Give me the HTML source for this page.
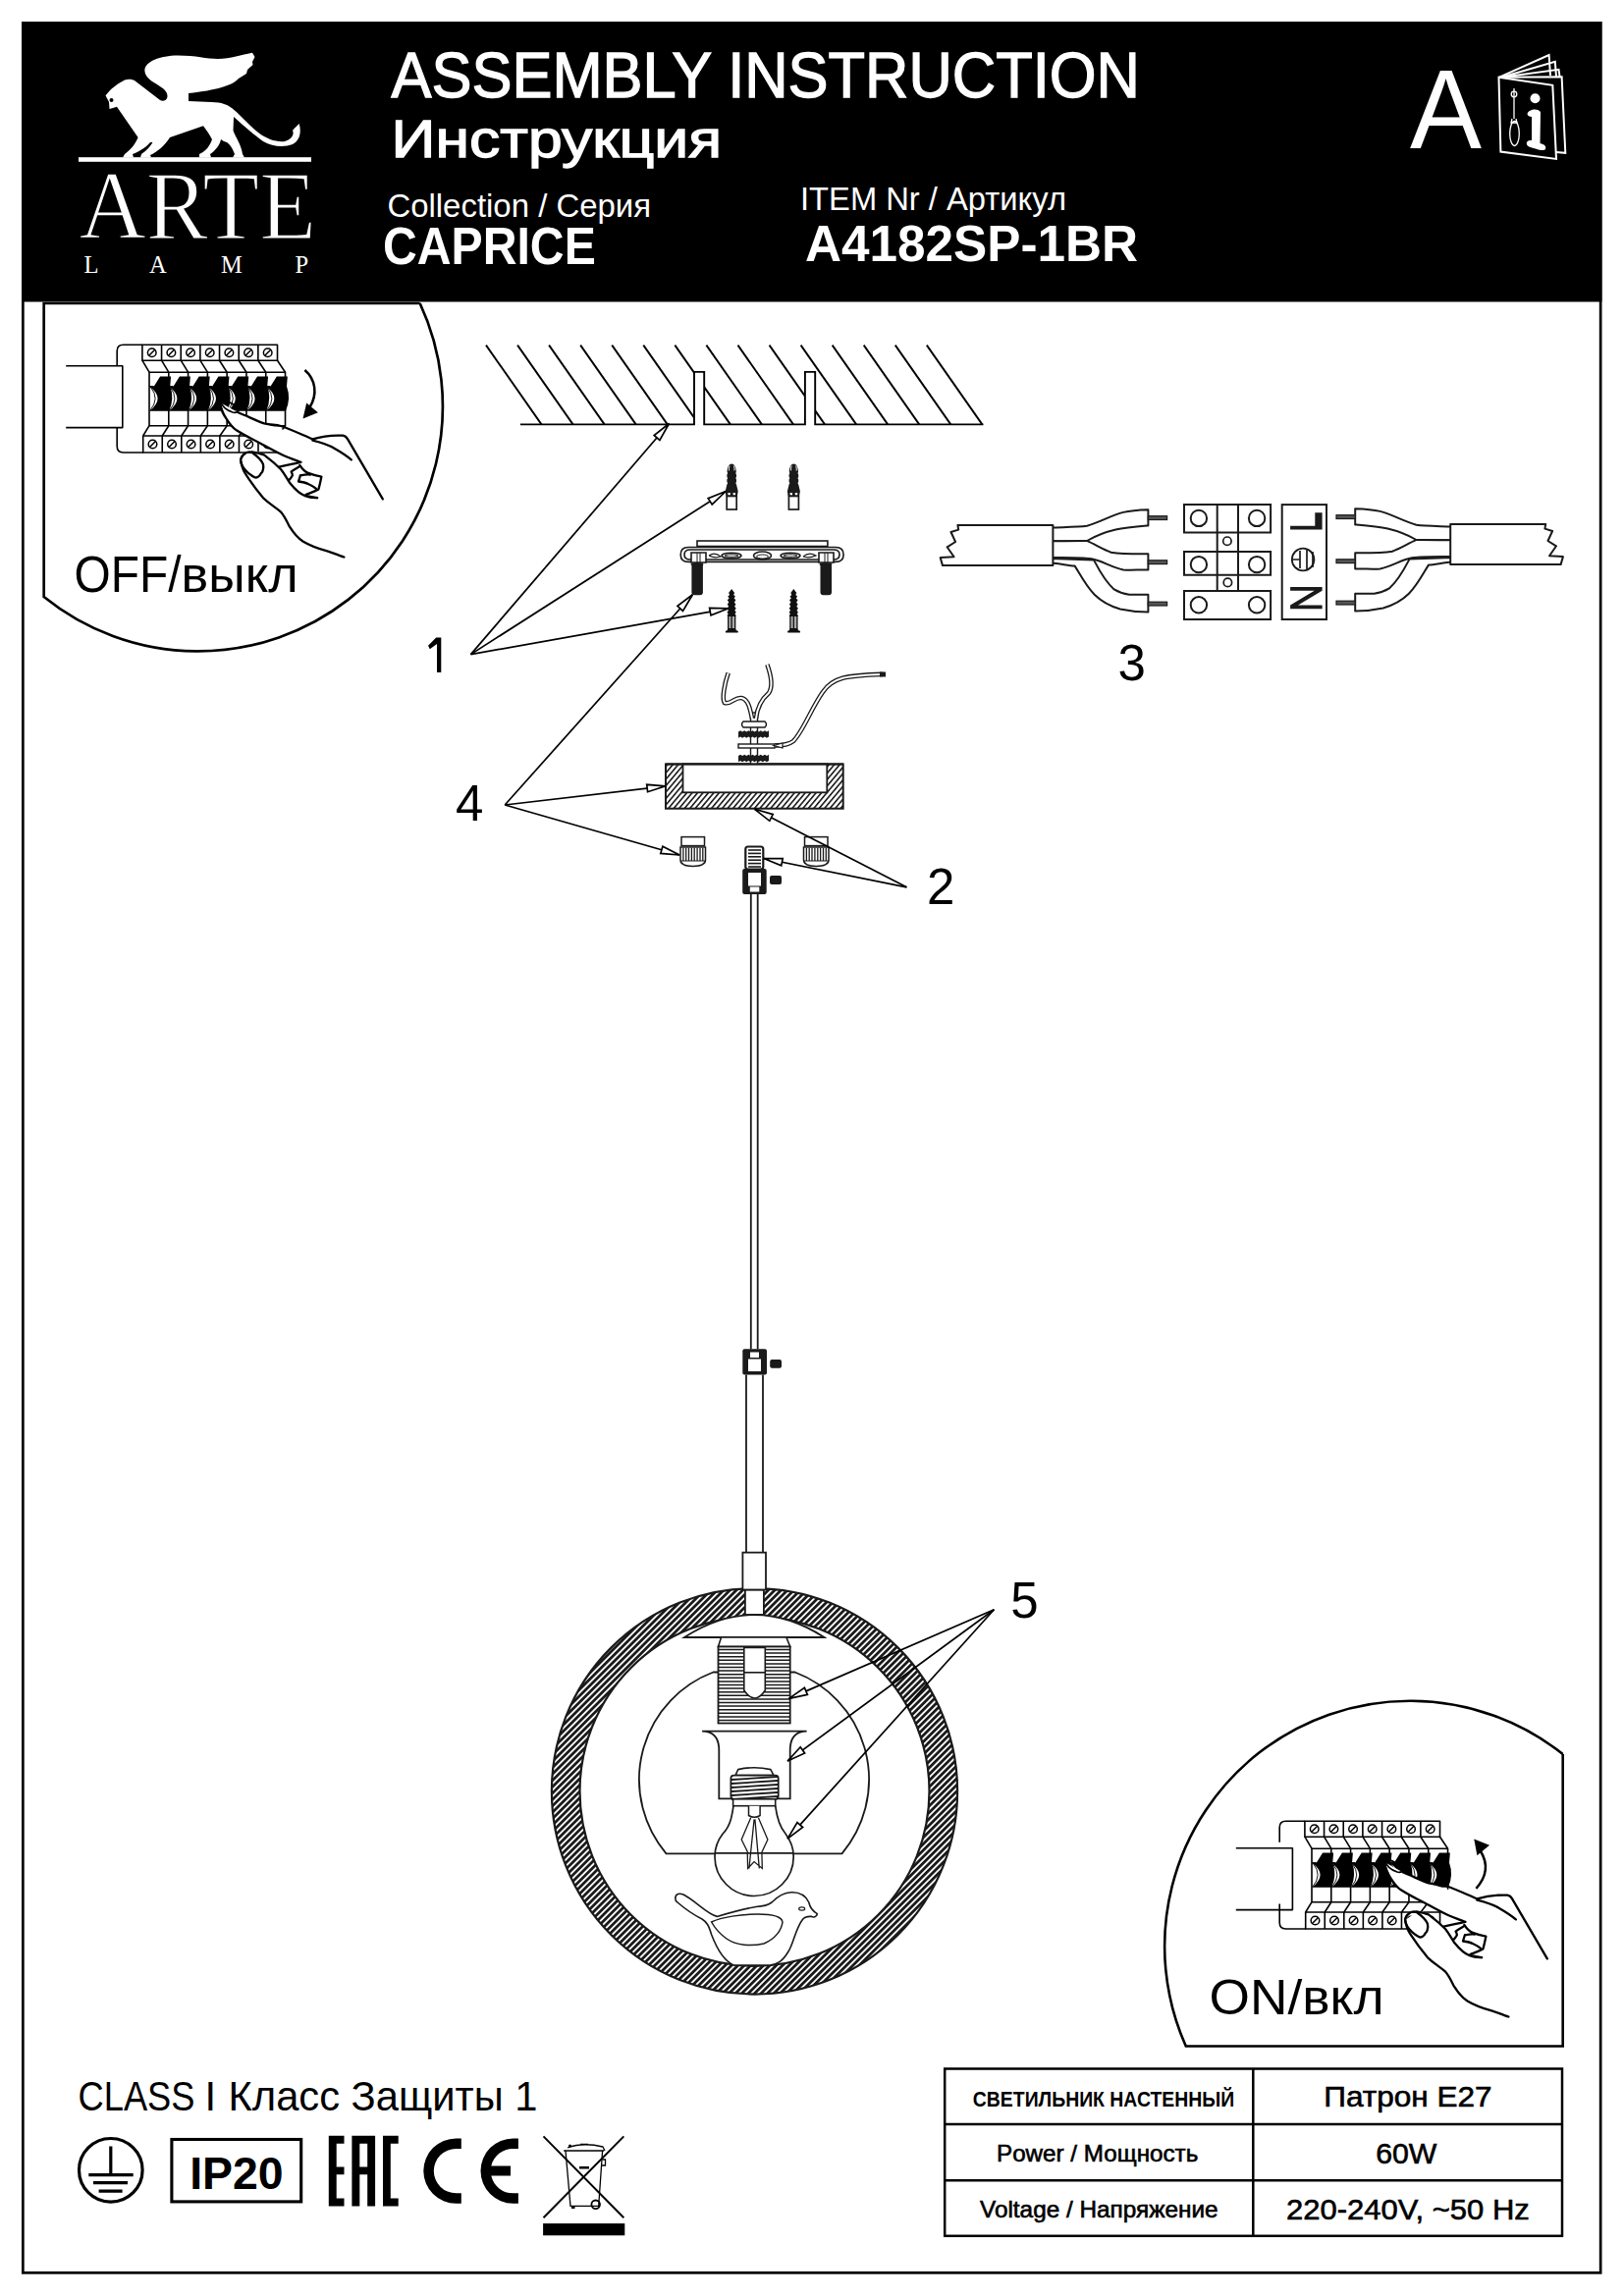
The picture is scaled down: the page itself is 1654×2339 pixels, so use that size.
<!DOCTYPE html>
<html><head><meta charset="utf-8">
<style>
html,body{margin:0;padding:0;background:#fff;}
body{width:1654px;height:2339px;overflow:hidden;}
svg{display:block;}
text{font-family:"Liberation Sans",sans-serif;}
</style></head><body>
<svg width="1654" height="2339" viewBox="0 0 1654 2339">
<defs>
<pattern id="hatchRing" patternUnits="userSpaceOnUse" width="4.6" height="4.6" patternTransform="rotate(-45)">
<rect width="4.6" height="4.6" fill="#fff"/><rect width="4.6" height="2.8" fill="#1a1a1a"/>
</pattern>
<pattern id="hatchCup" patternUnits="userSpaceOnUse" width="4.2" height="4.2" patternTransform="rotate(-50)">
<rect width="4.2" height="4.2" fill="#fff"/><rect width="4.2" height="1.6" fill="#1a1a1a"/>
</pattern>
</defs>
<rect width="1654" height="2339" fill="#fff"/>
<!-- frame -->
<rect x="23.35" y="23.35" width="1606.8" height="2292" fill="none" stroke="#000" stroke-width="2.7"/>
<!-- header -->
<rect x="22" y="22" width="1609.5" height="285.5" fill="#000"/>

<!-- HEADER TEXT -->
<g fill="#fff">
<text x="398.5" y="99" font-size="64.5" textLength="762.5" lengthAdjust="spacingAndGlyphs" stroke="#fff" stroke-width="1.3">ASSEMBLY INSTRUCTION</text>
<text x="398.6" y="159.8" font-size="54.5" textLength="336.5" lengthAdjust="spacingAndGlyphs" stroke="#fff" stroke-width="1.3">Инструкция</text>
<text x="394.4" y="220.6" font-size="33.4" textLength="268.7" lengthAdjust="spacingAndGlyphs">Collection / Серия</text>
<text x="390" y="268.7" font-size="52.9" font-weight="bold" textLength="216.8" lengthAdjust="spacingAndGlyphs">CAPRICE</text>
<text x="815" y="213.8" font-size="33.7" textLength="271" lengthAdjust="spacingAndGlyphs">ITEM Nr / Артикул</text>
<text x="820" y="266.4" font-size="52.3" font-weight="bold" textLength="339" lengthAdjust="spacingAndGlyphs">A4182SP-1BR</text>
<text x="1436" y="150.8" font-size="115.4" textLength="73" lengthAdjust="spacingAndGlyphs">A</text>
</g>

<g id="book" fill="none" stroke="#fff" stroke-width="2">
<path d="M1526.5,78.8 L1577.6,56 L1579,77"/>
<path d="M1530,78.5 L1583.8,62.8 L1585,78"/>
<path d="M1533,78.3 L1587.5,70.8 L1588.5,78"/>
<path d="M1526.5,78.8 L1590.6,78.2 L1594.3,155.8 L1585,155"/>
<path d="M1526.5,78.8 L1581.3,86.8 L1585,161.9 L1528.4,154.5 Z"/>
<line x1="1542" y1="90" x2="1542" y2="121" stroke-width="1.3"/>
<circle cx="1542" cy="96" r="2.8" stroke-width="1.3"/>
<path d="M1540,121 L1539,125 L1545,125 L1544,121" stroke-width="1.3"/>
<ellipse cx="1542.5" cy="136" rx="4.8" ry="12.5" stroke-width="1.3"/>
</g>
<g fill="#fff">
<circle cx="1563.5" cy="100.3" r="5"/>
<path d="M1555.5,116 C1557,111 1566,110 1569,114 L1568.5,146 C1573,147 1575,149 1574,152 C1572,154 1568,153 1562,151 C1557,150 1554,148 1555,145 C1556,143 1558,143 1560,143 L1560,119 C1558,119 1555.5,118 1555.5,116 Z"/>
</g>
<!-- LOGO -->
<g id="logo" fill="#fff">
<path fill="#fff" d="M147.4,72.1 C147,63 163,56.5 181,56.5 C200,56.5 210,60 222,60 C235,60 248,55 257,53.8 L259.5,58 L257,63 L257.5,66 L252,71 L251,75 L243,80 C237,87 220,92 192,95 L192,103 L215,104 C226,104 232,107 236,110 C246,118 254,128 263,135 C272,142 282,145 290,144 C297,142 300,137 298,133 C300,130 303,128 304.6,126 C307,133 306,143 298,147 C290,150 278,150 268,144 C258,137 246,126 238,119 L237.5,133 C240,140 246,148 247,157 L249,160.5 L237,160.5 L239,157 C236,149 233,145 228,144 L225,142 C224,147 220,153 214,157 L215,160.5 L203,160.5 L203,157 C210,154 214,148 216,142 C214,138 210,132 207,128.3 L173,140 C168,148 160,155 153,158 L154,160.5 L143,160.5 L144,157 C150,153 153,149 155.5,145 L153,145 C148,151 140,155 135,157 L136,160.5 L125,160.5 L127,157 C134,152 138,146 140.6,140 L119,108.7 L115,110 L111.5,111 L111,104 L107.5,97.2 L113,91 L120,85.6 L127,81.6 C131,80 135,81 137,82 L163,102 C166,104 170,102 170.4,99 C171,94 168,91 160,86 C152,82 147.5,77 147.4,72.1 Z"/>
<circle cx="113.5" cy="101.9" r="2" fill="#000"/>
<rect x="80" y="160.2" width="237" height="4.6"/>
<text x="80.5" y="242.6" font-family="Liberation Serif" font-size="99" stroke="#000" stroke-width="1.6" textLength="241.5" lengthAdjust="spacingAndGlyphs" style="font-family:'Liberation Serif',serif">ARTE</text>
<g style="font-family:'Liberation Serif',serif" font-size="24.5">
<text x="85.5" y="277.6" style="font-family:'Liberation Serif',serif">L</text>
<text x="152" y="277.6" style="font-family:'Liberation Serif',serif">A</text>
<text x="225" y="277.6" style="font-family:'Liberation Serif',serif">M</text>
<text x="300.5" y="277.6" style="font-family:'Liberation Serif',serif">P</text>
</g>
</g>

<!-- OFF circle -->
<path d="M427.7,309 L44.7,309 L44.7,608 A249.4,249.4 0 0 0 427.7,309" fill="none" stroke="#000" stroke-width="2.7" stroke-linejoin="miter"/>
<text x="75.5" y="603.2" font-size="51.6" textLength="109" lengthAdjust="spacingAndGlyphs">OFF/</text><text x="184.6" y="603.2" font-size="51.6" textLength="119" lengthAdjust="spacingAndGlyphs">выкл</text>

<!-- ON circle -->
<path d="M1591.7,1787 L1591.7,2084.5 L1207.8,2084.5 A250,250 0 0 1 1591.7,1787" fill="none" stroke="#000" stroke-width="2.6"/>
<text x="1231.5" y="2052" font-size="49.5" textLength="178" lengthAdjust="spacingAndGlyphs">ON/вкл</text>

<!-- labels -->
<g font-size="51" text-anchor="middle">

<text x="478.3" y="835.6">4</text>
<text x="958.2" y="921">2</text>
<text x="1152.6" y="693.3">3</text>
<text x="1043.5" y="1648">5</text>
</g>

<path d="M444.2,649.5 H449.3 V685 H445 V656 L437.8,661.2 L436,657.8 Z" fill="#000"/>
<!-- BOTTOM -->
<text x="79.5" y="2149.5" font-size="41.8" textLength="119" lengthAdjust="spacingAndGlyphs">CLASS</text><text x="208.5" y="2149.5" font-size="41.8">I</text><text x="232.5" y="2149.5" font-size="41.8" textLength="315" lengthAdjust="spacingAndGlyphs">Класс Защиты 1</text>

<!-- table -->
<g fill="none" stroke="#000" stroke-width="2.5">
<rect x="962.2" y="2107.5" width="628.8" height="170.3"/>
<line x1="1276.3" y1="2107" x2="1276.3" y2="2279"/>
<line x1="962" y1="2164" x2="1591" y2="2164"/>
<line x1="962" y1="2221.3" x2="1591" y2="2221.3"/>
</g>
<g>
<text x="990.8" y="2145.7" font-size="22.5" font-weight="bold" textLength="266.4" lengthAdjust="spacingAndGlyphs">СВЕТИЛЬНИК НАСТЕННЫЙ</text>
<text x="1348.3" y="2145.7" font-size="29.5" textLength="171.2" lengthAdjust="spacingAndGlyphs" stroke="#000" stroke-width="0.6">Патрон E27</text>
<text x="1015" y="2201.8" font-size="23.7" textLength="205.3" lengthAdjust="spacingAndGlyphs" stroke="#000" stroke-width="0.6">Power / Мощность</text>
<text x="1401.2" y="2203.8" font-size="29.5" textLength="62.2" lengthAdjust="spacingAndGlyphs" stroke="#000" stroke-width="0.6">60W</text>
<text x="998" y="2258.7" font-size="23.7" textLength="242.6" lengthAdjust="spacingAndGlyphs" stroke="#000" stroke-width="0.6">Voltage / Напряжение</text>
<text x="1310" y="2260.7" font-size="29.5" textLength="247.8" lengthAdjust="spacingAndGlyphs" stroke="#000" stroke-width="0.6">220-240V, ~50 Hz</text>
</g>

<!-- DRAW_START -->
<!-- OFF breaker -->
<g><g fill="none" stroke="#000" stroke-width="1.6" stroke-linejoin="round">
<path d="M67.2,372.8 H124.8 V435.6 H67.2"/>
<path d="M145,351.2 H125.5 Q119.2,351.2 119.2,357.5 V372.8 M119.2,435.6 V454.5 Q119.2,461 125.5,461 H146"/>
<rect x="144.9" y="351.2" width="137.62" height="16"/>
<line x1="164.56" y1="351.2" x2="164.56" y2="367.2"/>
<line x1="184.22" y1="351.2" x2="184.22" y2="367.2"/>
<line x1="203.88" y1="351.2" x2="203.88" y2="367.2"/>
<line x1="223.54" y1="351.2" x2="223.54" y2="367.2"/>
<line x1="243.20" y1="351.2" x2="243.20" y2="367.2"/>
<line x1="262.86" y1="351.2" x2="262.86" y2="367.2"/>
<rect x="152.0" y="379.2" width="138.53" height="54.5" fill="#fff"/>
<line x1="171.79" y1="379.2" x2="171.79" y2="433.7"/>
<line x1="191.58" y1="379.2" x2="191.58" y2="433.7"/>
<line x1="211.37" y1="379.2" x2="211.37" y2="433.7"/>
<line x1="231.16" y1="379.2" x2="231.16" y2="433.7"/>
<line x1="250.95" y1="379.2" x2="250.95" y2="433.7"/>
<line x1="270.74" y1="379.2" x2="270.74" y2="433.7"/>
<line x1="144.90" y1="367.2" x2="152.00" y2="379.2"/>
<line x1="164.56" y1="367.2" x2="171.79" y2="379.2"/>
<line x1="184.22" y1="367.2" x2="191.58" y2="379.2"/>
<line x1="203.88" y1="367.2" x2="211.37" y2="379.2"/>
<line x1="223.54" y1="367.2" x2="231.16" y2="379.2"/>
<line x1="243.20" y1="367.2" x2="250.95" y2="379.2"/>
<line x1="262.86" y1="367.2" x2="270.74" y2="379.2"/>
<line x1="282.52" y1="367.2" x2="290.53" y2="379.2"/>
<rect x="145.7" y="444" width="136.85" height="17"/>
<line x1="165.25" y1="444" x2="165.25" y2="461"/>
<line x1="184.80" y1="444" x2="184.80" y2="461"/>
<line x1="204.35" y1="444" x2="204.35" y2="461"/>
<line x1="223.90" y1="444" x2="223.90" y2="461"/>
<line x1="243.45" y1="444" x2="243.45" y2="461"/>
<line x1="263.00" y1="444" x2="263.00" y2="461"/>
<line x1="152.00" y1="433.7" x2="145.70" y2="444"/>
<line x1="171.79" y1="433.7" x2="165.25" y2="444"/>
<line x1="191.58" y1="433.7" x2="184.80" y2="444"/>
<line x1="211.37" y1="433.7" x2="204.35" y2="444"/>
<line x1="231.16" y1="433.7" x2="223.90" y2="444"/>
<line x1="250.95" y1="433.7" x2="243.45" y2="444"/>
<line x1="270.74" y1="433.7" x2="263.00" y2="444"/>
<line x1="290.53" y1="433.7" x2="282.55" y2="444"/>
</g>
<g fill="none" stroke="#000" stroke-width="1.5">
<circle cx="154.73" cy="359.2" r="4.3"/><line x1="151.73" y1="362.2" x2="157.73" y2="356.2"/>
<circle cx="155.47" cy="452.5" r="4.3"/><line x1="152.47" y1="455.5" x2="158.47" y2="449.5"/>
<circle cx="174.39" cy="359.2" r="4.3"/><line x1="171.39" y1="362.2" x2="177.39" y2="356.2"/>
<circle cx="175.02" cy="452.5" r="4.3"/><line x1="172.02" y1="455.5" x2="178.02" y2="449.5"/>
<circle cx="194.05" cy="359.2" r="4.3"/><line x1="191.05" y1="362.2" x2="197.05" y2="356.2"/>
<circle cx="194.57" cy="452.5" r="4.3"/><line x1="191.57" y1="455.5" x2="197.57" y2="449.5"/>
<circle cx="213.71" cy="359.2" r="4.3"/><line x1="210.71" y1="362.2" x2="216.71" y2="356.2"/>
<circle cx="214.12" cy="452.5" r="4.3"/><line x1="211.12" y1="455.5" x2="217.12" y2="449.5"/>
<circle cx="233.37" cy="359.2" r="4.3"/><line x1="230.37" y1="362.2" x2="236.37" y2="356.2"/>
<circle cx="233.68" cy="452.5" r="4.3"/><line x1="230.68" y1="455.5" x2="236.68" y2="449.5"/>
<circle cx="253.03" cy="359.2" r="4.3"/><line x1="250.03" y1="362.2" x2="256.03" y2="356.2"/>
<circle cx="253.22" cy="452.5" r="4.3"/><line x1="250.22" y1="455.5" x2="256.23" y2="449.5"/>
<circle cx="272.69" cy="359.2" r="4.3"/><line x1="269.69" y1="362.2" x2="275.69" y2="356.2"/>
<circle cx="272.77" cy="452.5" r="4.3"/><line x1="269.77" y1="455.5" x2="275.77" y2="449.5"/>
</g>
<g>
<path d="M163.10,383.6 L174.09,383.6 L173.29,393.5 Q177.79,406 172.29,418.8 L152.00,418.8 Q169.00,406 152.50,394 L156.70,393.7 Z" fill="#000"/>
<path d="M153.50,394.5 Q163.00,406 153.00,418" fill="none" stroke="#000" stroke-width="0.9"/>
<line x1="152.00" y1="393.7" x2="156.70" y2="393.7" stroke="#000" stroke-width="1.3"/>
<path d="M182.89,383.6 L193.88,383.6 L193.08,393.5 Q197.58,406 192.08,418.8 L171.79,418.8 Q188.79,406 172.29,394 L176.49,393.7 Z" fill="#000"/>
<path d="M173.29,394.5 Q182.79,406 172.79,418" fill="none" stroke="#000" stroke-width="0.9"/>
<line x1="171.79" y1="393.7" x2="176.49" y2="393.7" stroke="#000" stroke-width="1.3"/>
<path d="M202.68,383.6 L213.67,383.6 L212.87,393.5 Q217.37,406 211.87,418.8 L191.58,418.8 Q208.58,406 192.08,394 L196.28,393.7 Z" fill="#000"/>
<path d="M193.08,394.5 Q202.58,406 192.58,418" fill="none" stroke="#000" stroke-width="0.9"/>
<line x1="191.58" y1="393.7" x2="196.28" y2="393.7" stroke="#000" stroke-width="1.3"/>
<path d="M222.47,383.6 L233.46,383.6 L232.66,393.5 Q237.16,406 231.66,418.8 L211.37,418.8 Q228.37,406 211.87,394 L216.07,393.7 Z" fill="#000"/>
<path d="M212.87,394.5 Q222.37,406 212.37,418" fill="none" stroke="#000" stroke-width="0.9"/>
<line x1="211.37" y1="393.7" x2="216.07" y2="393.7" stroke="#000" stroke-width="1.3"/>
<path d="M242.26,383.6 L253.25,383.6 L252.45,393.5 Q256.95,406 251.45,418.8 L231.16,418.8 Q248.16,406 231.66,394 L235.86,393.7 Z" fill="#000"/>
<path d="M232.66,394.5 Q242.16,406 232.16,418" fill="none" stroke="#000" stroke-width="0.9"/>
<line x1="231.16" y1="393.7" x2="235.86" y2="393.7" stroke="#000" stroke-width="1.3"/>
<path d="M262.05,383.6 L273.04,383.6 L272.24,393.5 Q276.74,406 271.24,418.8 L250.95,418.8 Q267.95,406 251.45,394 L255.65,393.7 Z" fill="#000"/>
<path d="M252.45,394.5 Q261.95,406 251.95,418" fill="none" stroke="#000" stroke-width="0.9"/>
<line x1="250.95" y1="393.7" x2="255.65" y2="393.7" stroke="#000" stroke-width="1.3"/>
<path d="M281.84,383.6 L292.83,383.6 L292.03,393.5 Q296.53,406 291.03,418.8 L270.74,418.8 Q287.74,406 271.24,394 L275.44,393.7 Z" fill="#000"/>
<path d="M272.24,394.5 Q281.74,406 271.74,418" fill="none" stroke="#000" stroke-width="0.9"/>
<line x1="270.74" y1="393.7" x2="275.44" y2="393.7" stroke="#000" stroke-width="1.3"/>
</g><path fill="#fff" d="M224.2,410 L242.6,420.3 L269,431.4 L318.4,447.4 L349.2,443.7 L389.8,508.4 L350.4,567.5 L333.2,561.3 L308.5,551.5 L295,536.7 L286.4,521.9 L267.9,507.1 L250.6,483.7 L245.1,469 L256.8,461 L263,460.3 L268.9,463.4 L284.3,475.7 L306.5,470.8 L288.8,464 L265.4,451.7 L240.8,438.2 L230.9,427.1 Z"/>
<g fill="none" stroke="#000" stroke-width="2.3" stroke-linecap="round" stroke-linejoin="round">
<path d="M242.6,420.3 C252,424 262,429 269.1,431.4 C276,433 281,432.5 286,434 C298,438 310,444 318.4,447.4"/>
<path d="M318.4,447.4 C326,445 336,443 349.2,443.7 C352,444 353,445.5 354.1,447.4 L389.8,508.4"/>
<path d="M318.4,448.6 C328,451 336,454 340.5,456.7 C348,461 354,465 357.8,468.4"/>
<path d="M224.2,411 C225,418 228,423 230.9,427.1 C234,432 237,436 240.8,438.2 C250,444 258,448 265.4,451.7 C275,457 282,461 288.8,464 C296,467 302,469 306,470.8"/>
<path d="M224.8,408.6 C228,406 236,410 242.6,416 C244,419 241,421 237,420 C231,418 226,414 224.8,408.6 Z" stroke-width="1.8"/>
<path d="M245.1,468.3 C246,463 252,459 256.8,461 C261,464 266,468 267.9,472.7 C269,477 267,482 266,481.9 C264,486 261,487 259.3,486.2 C255,484 249,479 247,475.1 C245.5,472 245,470 245.1,468.3 Z"/>
<path d="M245.1,469 C246,474 248,480 250.6,483.7 C256,492 262,500 267.9,507.1 C275,514 281,517 286.4,521.9 C290,526 292,531 295,536.7 C299,543 303,548 308.5,551.5 C316,556 324,559 333.2,561.3 C339,563 345,566 350.4,567.5"/>
<path d="M256.6,460.3 C261,461 265,462 268.9,463.4 C275,468 281,473 286.2,478.2 C290,483 292.5,488 295.4,492.3 C300,498 305,503 310.8,505.3 C315,507 319,507.3 323.1,507.1"/>
<path d="M284.3,475.7 C292,474 300,472 306.5,470.8 M305.3,473.9 C308,478 311,481 313.9,481.9 C318,483.5 323,485 327.4,485.6 M305.3,475.1 C302,477 299,478.5 296.6,480.6 C297.5,482 298,483 297.9,484.3 C297,486 295.5,488 294.2,489.3 M305.9,484.3 C310,483.5 313,483 316,483.5 M305.9,484.3 L304,490.5 C308,491 311,491.5 313.9,493 C317,494.5 320,496 321.9,497.9 M327.4,485.6 C326.5,490 325.5,495 324.4,498.5 C320,501 315,502.5 311.4,504 C315,506 319,507 323.1,507.1"/>
</g></g>
<path d="M310.4,377 C321,386 324,401 315.5,415" fill="none" stroke="#000" stroke-width="2.5"/><path d="M308.5,426.5 L312.2,410.5 L323.9,420.3 Z" fill="#000"/>
<!-- ON breaker -->
<g transform="translate(1184,1504)"><g fill="none" stroke="#000" stroke-width="1.6" stroke-linejoin="round">
<path d="M74.8,378.8 H132.4 V441.6 H74.8"/>
<path d="M145,351.2 H125.5 Q119.2,351.2 119.2,357.5 V372.8 M119.2,435.6 V454.5 Q119.2,461 125.5,461 H146"/>
<rect x="144.9" y="351.2" width="137.62" height="16"/>
<line x1="164.56" y1="351.2" x2="164.56" y2="367.2"/>
<line x1="184.22" y1="351.2" x2="184.22" y2="367.2"/>
<line x1="203.88" y1="351.2" x2="203.88" y2="367.2"/>
<line x1="223.54" y1="351.2" x2="223.54" y2="367.2"/>
<line x1="243.20" y1="351.2" x2="243.20" y2="367.2"/>
<line x1="262.86" y1="351.2" x2="262.86" y2="367.2"/>
<rect x="152.0" y="379.2" width="138.53" height="54.5" fill="#fff"/>
<line x1="171.79" y1="379.2" x2="171.79" y2="433.7"/>
<line x1="191.58" y1="379.2" x2="191.58" y2="433.7"/>
<line x1="211.37" y1="379.2" x2="211.37" y2="433.7"/>
<line x1="231.16" y1="379.2" x2="231.16" y2="433.7"/>
<line x1="250.95" y1="379.2" x2="250.95" y2="433.7"/>
<line x1="270.74" y1="379.2" x2="270.74" y2="433.7"/>
<line x1="144.90" y1="367.2" x2="152.00" y2="379.2"/>
<line x1="164.56" y1="367.2" x2="171.79" y2="379.2"/>
<line x1="184.22" y1="367.2" x2="191.58" y2="379.2"/>
<line x1="203.88" y1="367.2" x2="211.37" y2="379.2"/>
<line x1="223.54" y1="367.2" x2="231.16" y2="379.2"/>
<line x1="243.20" y1="367.2" x2="250.95" y2="379.2"/>
<line x1="262.86" y1="367.2" x2="270.74" y2="379.2"/>
<line x1="282.52" y1="367.2" x2="290.53" y2="379.2"/>
<rect x="145.7" y="444" width="136.85" height="17"/>
<line x1="165.25" y1="444" x2="165.25" y2="461"/>
<line x1="184.80" y1="444" x2="184.80" y2="461"/>
<line x1="204.35" y1="444" x2="204.35" y2="461"/>
<line x1="223.90" y1="444" x2="223.90" y2="461"/>
<line x1="243.45" y1="444" x2="243.45" y2="461"/>
<line x1="263.00" y1="444" x2="263.00" y2="461"/>
<line x1="152.00" y1="433.7" x2="145.70" y2="444"/>
<line x1="171.79" y1="433.7" x2="165.25" y2="444"/>
<line x1="191.58" y1="433.7" x2="184.80" y2="444"/>
<line x1="211.37" y1="433.7" x2="204.35" y2="444"/>
<line x1="231.16" y1="433.7" x2="223.90" y2="444"/>
<line x1="250.95" y1="433.7" x2="243.45" y2="444"/>
<line x1="270.74" y1="433.7" x2="263.00" y2="444"/>
<line x1="290.53" y1="433.7" x2="282.55" y2="444"/>
</g>
<g fill="none" stroke="#000" stroke-width="1.5">
<circle cx="154.73" cy="359.2" r="4.3"/><line x1="151.73" y1="362.2" x2="157.73" y2="356.2"/>
<circle cx="155.47" cy="452.5" r="4.3"/><line x1="152.47" y1="455.5" x2="158.47" y2="449.5"/>
<circle cx="174.39" cy="359.2" r="4.3"/><line x1="171.39" y1="362.2" x2="177.39" y2="356.2"/>
<circle cx="175.02" cy="452.5" r="4.3"/><line x1="172.02" y1="455.5" x2="178.02" y2="449.5"/>
<circle cx="194.05" cy="359.2" r="4.3"/><line x1="191.05" y1="362.2" x2="197.05" y2="356.2"/>
<circle cx="194.57" cy="452.5" r="4.3"/><line x1="191.57" y1="455.5" x2="197.57" y2="449.5"/>
<circle cx="213.71" cy="359.2" r="4.3"/><line x1="210.71" y1="362.2" x2="216.71" y2="356.2"/>
<circle cx="214.12" cy="452.5" r="4.3"/><line x1="211.12" y1="455.5" x2="217.12" y2="449.5"/>
<circle cx="233.37" cy="359.2" r="4.3"/><line x1="230.37" y1="362.2" x2="236.37" y2="356.2"/>
<circle cx="233.68" cy="452.5" r="4.3"/><line x1="230.68" y1="455.5" x2="236.68" y2="449.5"/>
<circle cx="253.03" cy="359.2" r="4.3"/><line x1="250.03" y1="362.2" x2="256.03" y2="356.2"/>
<circle cx="253.22" cy="452.5" r="4.3"/><line x1="250.22" y1="455.5" x2="256.23" y2="449.5"/>
<circle cx="272.69" cy="359.2" r="4.3"/><line x1="269.69" y1="362.2" x2="275.69" y2="356.2"/>
<circle cx="272.77" cy="452.5" r="4.3"/><line x1="269.77" y1="455.5" x2="275.77" y2="449.5"/>
</g>
<g>
<path d="M163.10,383.6 L174.09,383.6 L173.29,393.5 Q177.79,406 172.29,418.8 L152.00,418.8 Q169.00,406 152.50,394 L156.70,393.7 Z" fill="#000"/>
<path d="M153.50,394.5 Q163.00,406 153.00,418" fill="none" stroke="#000" stroke-width="0.9"/>
<line x1="152.00" y1="393.7" x2="156.70" y2="393.7" stroke="#000" stroke-width="1.3"/>
<path d="M182.89,383.6 L193.88,383.6 L193.08,393.5 Q197.58,406 192.08,418.8 L171.79,418.8 Q188.79,406 172.29,394 L176.49,393.7 Z" fill="#000"/>
<path d="M173.29,394.5 Q182.79,406 172.79,418" fill="none" stroke="#000" stroke-width="0.9"/>
<line x1="171.79" y1="393.7" x2="176.49" y2="393.7" stroke="#000" stroke-width="1.3"/>
<path d="M202.68,383.6 L213.67,383.6 L212.87,393.5 Q217.37,406 211.87,418.8 L191.58,418.8 Q208.58,406 192.08,394 L196.28,393.7 Z" fill="#000"/>
<path d="M193.08,394.5 Q202.58,406 192.58,418" fill="none" stroke="#000" stroke-width="0.9"/>
<line x1="191.58" y1="393.7" x2="196.28" y2="393.7" stroke="#000" stroke-width="1.3"/>
<path d="M222.47,383.6 L233.46,383.6 L232.66,393.5 Q237.16,406 231.66,418.8 L211.37,418.8 Q228.37,406 211.87,394 L216.07,393.7 Z" fill="#000"/>
<path d="M212.87,394.5 Q222.37,406 212.37,418" fill="none" stroke="#000" stroke-width="0.9"/>
<line x1="211.37" y1="393.7" x2="216.07" y2="393.7" stroke="#000" stroke-width="1.3"/>
<path d="M242.26,383.6 L253.25,383.6 L252.45,393.5 Q256.95,406 251.45,418.8 L231.16,418.8 Q248.16,406 231.66,394 L235.86,393.7 Z" fill="#000"/>
<path d="M232.66,394.5 Q242.16,406 232.16,418" fill="none" stroke="#000" stroke-width="0.9"/>
<line x1="231.16" y1="393.7" x2="235.86" y2="393.7" stroke="#000" stroke-width="1.3"/>
<path d="M262.05,383.6 L273.04,383.6 L272.24,393.5 Q276.74,406 271.24,418.8 L250.95,418.8 Q267.95,406 251.45,394 L255.65,393.7 Z" fill="#000"/>
<path d="M252.45,394.5 Q261.95,406 251.95,418" fill="none" stroke="#000" stroke-width="0.9"/>
<line x1="250.95" y1="393.7" x2="255.65" y2="393.7" stroke="#000" stroke-width="1.3"/>
<path d="M281.84,383.6 L292.83,383.6 L292.03,393.5 Q296.53,406 291.03,418.8 L270.74,418.8 Q287.74,406 271.24,394 L275.44,393.7 Z" fill="#000"/>
<path d="M272.24,394.5 Q281.74,406 271.74,418" fill="none" stroke="#000" stroke-width="0.9"/>
<line x1="270.74" y1="393.7" x2="275.44" y2="393.7" stroke="#000" stroke-width="1.3"/>
</g><g transform="translate(2,-17)"><path fill="#fff" d="M224.2,410 L242.6,420.3 L269,431.4 L318.4,447.4 L349.2,443.7 L389.8,508.4 L350.4,567.5 L333.2,561.3 L308.5,551.5 L295,536.7 L286.4,521.9 L267.9,507.1 L250.6,483.7 L245.1,469 L256.8,461 L263,460.3 L268.9,463.4 L284.3,475.7 L306.5,470.8 L288.8,464 L265.4,451.7 L240.8,438.2 L230.9,427.1 Z"/>
<g fill="none" stroke="#000" stroke-width="2.3" stroke-linecap="round" stroke-linejoin="round">
<path d="M242.6,420.3 C252,424 262,429 269.1,431.4 C276,433 281,432.5 286,434 C298,438 310,444 318.4,447.4"/>
<path d="M318.4,447.4 C326,445 336,443 349.2,443.7 C352,444 353,445.5 354.1,447.4 L389.8,508.4"/>
<path d="M318.4,448.6 C328,451 336,454 340.5,456.7 C348,461 354,465 357.8,468.4"/>
<path d="M224.2,411 C225,418 228,423 230.9,427.1 C234,432 237,436 240.8,438.2 C250,444 258,448 265.4,451.7 C275,457 282,461 288.8,464 C296,467 302,469 306,470.8"/>
<path d="M224.8,408.6 C228,406 236,410 242.6,416 C244,419 241,421 237,420 C231,418 226,414 224.8,408.6 Z" stroke-width="1.8"/>
<path d="M245.1,468.3 C246,463 252,459 256.8,461 C261,464 266,468 267.9,472.7 C269,477 267,482 266,481.9 C264,486 261,487 259.3,486.2 C255,484 249,479 247,475.1 C245.5,472 245,470 245.1,468.3 Z"/>
<path d="M245.1,469 C246,474 248,480 250.6,483.7 C256,492 262,500 267.9,507.1 C275,514 281,517 286.4,521.9 C290,526 292,531 295,536.7 C299,543 303,548 308.5,551.5 C316,556 324,559 333.2,561.3 C339,563 345,566 350.4,567.5"/>
<path d="M256.6,460.3 C261,461 265,462 268.9,463.4 C275,468 281,473 286.2,478.2 C290,483 292.5,488 295.4,492.3 C300,498 305,503 310.8,505.3 C315,507 319,507.3 323.1,507.1"/>
<path d="M284.3,475.7 C292,474 300,472 306.5,470.8 M305.3,473.9 C308,478 311,481 313.9,481.9 C318,483.5 323,485 327.4,485.6 M305.3,475.1 C302,477 299,478.5 296.6,480.6 C297.5,482 298,483 297.9,484.3 C297,486 295.5,488 294.2,489.3 M305.9,484.3 C310,483.5 313,483 316,483.5 M305.9,484.3 L304,490.5 C308,491 311,491.5 313.9,493 C317,494.5 320,496 321.9,497.9 M327.4,485.6 C326.5,490 325.5,495 324.4,498.5 C320,501 315,502.5 311.4,504 C315,506 319,507 323.1,507.1"/>
</g></g></g>
<path d="M1503.4,1923.8 C1514,1912 1516,1899 1508,1886" fill="none" stroke="#000" stroke-width="2.5"/><path d="M1501.3,1873.5 L1517,1879.8 L1504.4,1890.3 Z" fill="#000"/>
<g fill="none" stroke="#000" stroke-width="1.9">
<line x1="495.00" y1="351.6" x2="551.50" y2="432.4"/>
<line x1="527.06" y1="351.6" x2="583.56" y2="432.4"/>
<line x1="559.12" y1="351.6" x2="615.62" y2="432.4"/>
<line x1="591.18" y1="351.6" x2="647.68" y2="432.4"/>
<line x1="623.24" y1="351.6" x2="679.74" y2="432.4"/>
<line x1="655.30" y1="351.6" x2="711.80" y2="432.4"/>
<line x1="687.36" y1="351.6" x2="743.86" y2="432.4"/>
<line x1="719.42" y1="351.6" x2="775.92" y2="432.4"/>
<line x1="751.48" y1="351.6" x2="807.98" y2="432.4"/>
<line x1="783.54" y1="351.6" x2="840.04" y2="432.4"/>
<line x1="815.60" y1="351.6" x2="872.10" y2="432.4"/>
<line x1="847.66" y1="351.6" x2="904.16" y2="432.4"/>
<line x1="879.72" y1="351.6" x2="936.22" y2="432.4"/>
<line x1="911.78" y1="351.6" x2="968.28" y2="432.4"/>
<line x1="943.84" y1="351.6" x2="1000.34" y2="432.4"/>
</g>
<rect x="707" y="378.9" width="10.2" height="54" fill="#fff"/>
<rect x="819.9" y="378.9" width="10.3" height="54" fill="#fff"/>
<g fill="none" stroke="#000" stroke-width="1.9">
<path d="M529.9,432.4 H707 V378.9 H717.2 V432.4 H819.9 V378.9 H830.2 V432.4 H1001.5"/>
</g>
<path d="M740.6,481 C740.6,476 742.7,472.6 745.2,472.6 C747.7,472.6 749.8000000000001,476 749.8000000000001,481 L749.2,482 L750.0,483.5 V486 L749.2,487 L750.0,488.5 V491 L749.2,492 L750.0,493.5 L751.7,500.5 L750.8000000000001,505.5 H739.4000000000001 L738.7,500.5 L740.4000000000001,493.5 L741.2,492 L740.4000000000001,491 V488.5 L741.2,487 L740.4000000000001,486 V483.5 L741.2,482 Z" fill="#1a1a1a"/><path d="M743.0,474.5 Q742.0,477 742.4000000000001,479.5 M747.4000000000001,474.5 Q748.4000000000001,477 748.0,479.5" stroke="#fff" stroke-width="0.9" fill="none"/><rect x="741.4000000000001" y="502" width="2.4" height="2.4" fill="#fff"/><rect x="746.6" y="502" width="2.4" height="2.4" fill="#fff"/><rect x="740.2" y="505.5" width="10" height="13.5" fill="#fff" stroke="#1a1a1a" stroke-width="1.7"/>
<path d="M803.8,481 C803.8,476 805.9,472.6 808.4,472.6 C810.9,472.6 813.0,476 813.0,481 L812.4,482 L813.1999999999999,483.5 V486 L812.4,487 L813.1999999999999,488.5 V491 L812.4,492 L813.1999999999999,493.5 L814.9,500.5 L814.0,505.5 H802.6 L801.9,500.5 L803.6,493.5 L804.4,492 L803.6,491 V488.5 L804.4,487 L803.6,486 V483.5 L804.4,482 Z" fill="#1a1a1a"/><path d="M806.1999999999999,474.5 Q805.1999999999999,477 805.6,479.5 M810.6,474.5 Q811.6,477 811.1999999999999,479.5" stroke="#fff" stroke-width="0.9" fill="none"/><rect x="804.6" y="502" width="2.4" height="2.4" fill="#fff"/><rect x="809.8" y="502" width="2.4" height="2.4" fill="#fff"/><rect x="803.4" y="505.5" width="10" height="13.5" fill="#fff" stroke="#1a1a1a" stroke-width="1.7"/>
<path d="M745.1,600.1 L748.1,604 L747.1,606 L748.9,607.5 L747.6,609.5 L749.4,611.3 L747.9,613.5 L749.4,615.8 L748.1,617.7 L749.7,619.7 L748.3,621.7 L749.7,623.8 L748.5,625.5 L749.7,627 L748.7,628.5 L745.1,629 L741.5,628.5 L740.5,627 L741.7,625.5 L740.5,623.8 L741.9,621.7 L740.5,619.7 L742.1,617.7 L740.8,615.8 L742.3,613.5 L740.8,611.3 L742.6,609.5 L741.3,607.5 L743.1,606 L742.1,604 Z" fill="#111"/><rect x="741.7" y="628" width="7" height="14" fill="#aaa"/><path d="M741.7,627 V642 M748.7,627 V642 M745.1,606 V642" stroke="#111" stroke-width="1.3" fill="none"/><path d="M741.7,640 Q741.1,642.3 738.8000000000001,643 L739.1,644.5 H751.6 L751.9,643 Q749.1,642.3 748.7,640 Z" fill="#111"/>
<path d="M808.3,600.1 L811.3,604 L810.3,606 L812.1,607.5 L810.8,609.5 L812.6,611.3 L811.1,613.5 L812.6,615.8 L811.3,617.7 L812.9,619.7 L811.5,621.7 L812.9,623.8 L811.7,625.5 L812.9,627 L811.9,628.5 L808.3,629 L804.7,628.5 L803.7,627 L804.9,625.5 L803.7,623.8 L805.1,621.7 L803.7,619.7 L805.3,617.7 L804.0,615.8 L805.5,613.5 L804.0,611.3 L805.8,609.5 L804.5,607.5 L806.3,606 L805.3,604 Z" fill="#111"/><rect x="804.9" y="628" width="7" height="14" fill="#aaa"/><path d="M804.9,627 V642 M811.9,627 V642 M808.3,606 V642" stroke="#111" stroke-width="1.3" fill="none"/><path d="M804.9,640 Q804.3,642.3 802.0,643 L802.3,644.5 H814.8 L815.0999999999999,643 Q812.3,642.3 811.9,640 Z" fill="#111"/>
<g fill="none" stroke="#1a1a1a" stroke-width="1.6">
<rect x="710" y="551" width="132.9" height="5.5" fill="#fff"/>
<path d="M701,557.5 H851 Q859.1,557.5 859.1,565 Q859.1,572.4 851,572.4 H701 Q693.2,572.4 693.2,565 Q693.2,557.5 701,557.5 Z" fill="#fff"/>
<path d="M703,560 H849 Q855,560 855,565 Q855,570 849,570 H703 Q697,570 697,565 Q697,560 703,560"/>
<ellipse cx="745" cy="566" rx="10" ry="2.8"/><ellipse cx="745" cy="566" rx="7" ry="1.2" stroke-width="1"/>
<ellipse cx="776.5" cy="566" rx="9" ry="4"/><ellipse cx="776.5" cy="567" rx="6" ry="2" stroke-width="1"/>
<ellipse cx="805" cy="566" rx="10" ry="2.8"/><ellipse cx="805" cy="566" rx="7" ry="1.2" stroke-width="1"/>
<path d="M722,566 Q728,562 734,567 Q728,569 722,566 M818,567 Q824,562 831,566 Q824,569 818,567" stroke-width="1.2"/>
<path d="M704,563 H719 V573 H704 Z" fill="#fff"/><line x1="710" y1="563" x2="710" y2="573" stroke-width="1"/><line x1="713" y1="563" x2="713" y2="573" stroke-width="1"/>
<path d="M834,563 H849 V573 H834 Z" fill="#fff"/><line x1="840" y1="563" x2="840" y2="573" stroke-width="1"/><line x1="843" y1="563" x2="843" y2="573" stroke-width="1"/>
</g>
<rect x="704.4" y="573.8" width="11.5" height="32.5" rx="3" fill="#1a1a1a"/>
<rect x="835.5" y="573.8" width="11.5" height="32.5" rx="3" fill="#1a1a1a"/>
<ellipse cx="710" cy="575" rx="6.5" ry="2" fill="#1a1a1a"/><ellipse cx="841" cy="575" rx="6.5" ry="2" fill="#1a1a1a"/>
<rect x="678" y="778.4" width="180.7" height="45.3" fill="url(#hatchCup)" stroke="#1a1a1a" stroke-width="2"/>
<rect x="695.5" y="778.4" width="146.8" height="28.9" fill="#fff" stroke="#1a1a1a" stroke-width="1.8"/>
<line x1="678" y1="778.4" x2="858.7" y2="778.4" stroke="#1a1a1a" stroke-width="2"/>
<g stroke="#1a1a1a" fill="#fff" stroke-width="1.4">
<rect x="764.5" y="726" width="7" height="52"/>
<path d="M757,735 H779 Q782,738 779,741 H757 Q754,738 757,735 Z"/>
<rect x="752" y="758" width="37" height="4"/>
</g>
<path d="M752,745.5 L752.0,745.5 L754.1,744.3 L756.1,745.5 L758.2,744.3 L760.3,745.5 L762.4,744.3 L764.4,745.5 L766.5,744.3 L768.6,745.5 L770.6,744.3 L772.7,745.5 L774.8,744.3 L776.8,745.5 L778.9,744.3 L781.0,745.5 L783.0,744.3 L783,745.5 L783,750.5 L783.0,750.5 L780.9,751.7 L778.9,750.5 L776.8,751.7 L774.7,750.5 L772.6,751.7 L770.6,750.5 L768.5,751.7 L766.4,750.5 L764.4,751.7 L762.3,750.5 L760.2,751.7 L758.2,750.5 L756.1,751.7 L754.0,750.5 L752.0,751.7 L752,750.5 Z" fill="#1a1a1a"/>
<path d="M752,770 L752.0,770 L754.1,768.8 L756.1,770 L758.2,768.8 L760.3,770 L762.4,768.8 L764.4,770 L766.5,768.8 L768.6,770 L770.6,768.8 L772.7,770 L774.8,768.8 L776.8,770 L778.9,768.8 L781.0,770 L783.0,768.8 L783,770 L783,775 L783.0,775 L780.9,776.2 L778.9,775 L776.8,776.2 L774.7,775 L772.6,776.2 L770.6,775 L768.5,776.2 L766.4,775 L764.4,776.2 L762.3,775 L760.2,776.2 L758.2,775 L756.1,776.2 L754.0,775 L752.0,776.2 L752,775 Z" fill="#1a1a1a"/>
<path d="M766,732 C764,722 762,712 755,711 C748,710 745,718 738,716 C735,712 738,696 741.7,685.5" fill="none" stroke="#1a1a1a" stroke-width="4.6" stroke-linecap="butt"/>
<path d="M766,732 C764,722 762,712 755,711 C748,710 745,718 738,716 C735,712 738,696 741.7,685.5" fill="none" stroke="#fff" stroke-width="2"/>
<path d="M770,732 C771,722 776,712 783,706 C787,700 786,690 781.4,677" fill="none" stroke="#1a1a1a" stroke-width="4.6" stroke-linecap="butt"/>
<path d="M770,732 C771,722 776,712 783,706 C787,700 786,690 781.4,677" fill="none" stroke="#fff" stroke-width="2"/>
<path d="M789,759.5 C797,759 803,759 808,755 C818,745 826,722 838,705 C848,690 862,688 898.9,686.9" fill="none" stroke="#1a1a1a" stroke-width="4.6" stroke-linecap="butt"/>
<path d="M789,759.5 C797,759 803,759 808,755 C818,745 826,722 838,705 C848,690 862,688 898.9,686.9" fill="none" stroke="#fff" stroke-width="2"/>
<rect x="896" y="684.5" width="6" height="5" fill="#1a1a1a"/>
<path d="M788,759.5 L797,757 L797,762 Z" fill="#fff" stroke="#1a1a1a" stroke-width="1.2"/>
<rect x="694" y="852.6" width="23.5" height="9" fill="#fff" stroke="#1a1a1a" stroke-width="1.5"/><path d="M693,863 H718.5 V876 Q718.5,882.4 705.75,882.4 Q693,882.4 693,876 Z" fill="#fff" stroke="#1a1a1a" stroke-width="1.5"/><line x1="695.9" y1="864" x2="695.9" y2="877" stroke="#1a1a1a" stroke-width="1.3"/><line x1="698.7" y1="864" x2="698.7" y2="877" stroke="#1a1a1a" stroke-width="1.3"/><line x1="701.5" y1="864" x2="701.5" y2="877" stroke="#1a1a1a" stroke-width="1.3"/><line x1="704.4" y1="864" x2="704.4" y2="877" stroke="#1a1a1a" stroke-width="1.3"/><line x1="707.2" y1="864" x2="707.2" y2="877" stroke="#1a1a1a" stroke-width="1.3"/><line x1="710.1" y1="864" x2="710.1" y2="877" stroke="#1a1a1a" stroke-width="1.3"/><line x1="713.0" y1="864" x2="713.0" y2="877" stroke="#1a1a1a" stroke-width="1.3"/><line x1="715.8" y1="864" x2="715.8" y2="877" stroke="#1a1a1a" stroke-width="1.3"/><line x1="693" y1="877" x2="718.5" y2="877" stroke="#1a1a1a" stroke-width="1"/>
<rect x="819.5" y="852.6" width="23.5" height="9" fill="#fff" stroke="#1a1a1a" stroke-width="1.5"/><path d="M818.5,863 H844.0 V876 Q844.0,882.4 831.25,882.4 Q818.5,882.4 818.5,876 Z" fill="#fff" stroke="#1a1a1a" stroke-width="1.5"/><line x1="821.4" y1="864" x2="821.4" y2="877" stroke="#1a1a1a" stroke-width="1.3"/><line x1="824.2" y1="864" x2="824.2" y2="877" stroke="#1a1a1a" stroke-width="1.3"/><line x1="827.0" y1="864" x2="827.0" y2="877" stroke="#1a1a1a" stroke-width="1.3"/><line x1="829.9" y1="864" x2="829.9" y2="877" stroke="#1a1a1a" stroke-width="1.3"/><line x1="832.8" y1="864" x2="832.8" y2="877" stroke="#1a1a1a" stroke-width="1.3"/><line x1="835.6" y1="864" x2="835.6" y2="877" stroke="#1a1a1a" stroke-width="1.3"/><line x1="838.5" y1="864" x2="838.5" y2="877" stroke="#1a1a1a" stroke-width="1.3"/><line x1="841.3" y1="864" x2="841.3" y2="877" stroke="#1a1a1a" stroke-width="1.3"/><line x1="818.5" y1="877" x2="844.0" y2="877" stroke="#1a1a1a" stroke-width="1"/>
<rect x="759.3" y="862.5" width="18" height="23" rx="2.5" fill="#fff" stroke="#1a1a1a" stroke-width="2.2"/>
<line x1="762" y1="866.0" x2="775" y2="866.0" stroke="#1a1a1a" stroke-width="1.6"/>
<line x1="762" y1="869.4" x2="775" y2="869.4" stroke="#1a1a1a" stroke-width="1.6"/>
<line x1="762" y1="872.8" x2="775" y2="872.8" stroke="#1a1a1a" stroke-width="1.6"/>
<line x1="762" y1="876.2" x2="775" y2="876.2" stroke="#1a1a1a" stroke-width="1.6"/>
<line x1="762" y1="879.6" x2="775" y2="879.6" stroke="#1a1a1a" stroke-width="1.6"/>
<line x1="762" y1="883.0" x2="775" y2="883.0" stroke="#1a1a1a" stroke-width="1.6"/>
<rect x="756.2" y="885" width="24.5" height="26" rx="2" fill="#1a1a1a"/>
<rect x="762" y="889" width="13" height="13.5" fill="#fff"/>
<rect x="763.8" y="903.5" width="9.5" height="5" fill="#fff"/>
<rect x="784" y="892" width="12" height="9" rx="2" fill="#1a1a1a"/>
<line x1="764.8" y1="911" x2="764.8" y2="1374.3" stroke="#1a1a1a" stroke-width="1.8"/>
<line x1="771.7" y1="911" x2="771.7" y2="1374.3" stroke="#1a1a1a" stroke-width="1.8"/>
<rect x="756.3" y="1374.3" width="24.7" height="26.3" rx="2" fill="#1a1a1a"/>
<rect x="762" y="1384.5" width="13" height="12.5" fill="#fff"/>
<rect x="764" y="1377.5" width="9" height="5.5" fill="#fff"/>
<rect x="784.2" y="1385" width="11.8" height="8.7" rx="2" fill="#1a1a1a"/>
<line x1="760" y1="1400.6" x2="760" y2="1581.6" stroke="#1a1a1a" stroke-width="1.8"/>
<line x1="777" y1="1400.6" x2="777" y2="1581.6" stroke="#1a1a1a" stroke-width="1.8"/>
<path d="M561.9,1824.8 A206.6,206.6 0 1 0 975.1,1824.8 A206.6,206.6 0 1 0 561.9,1824.8 Z M590.5,1824.8 A178.0,178.0 0 1 0 946.5,1824.8 A178.0,178.0 0 1 0 590.5,1824.8 Z" fill="url(#hatchRing)" fill-rule="evenodd" stroke="#1a1a1a" stroke-width="2.2"/>
<rect x="758.9" y="1619.5" width="19" height="25.5" fill="#fff" stroke="#1a1a1a" stroke-width="1.8"/>
<rect x="756.4" y="1581.6" width="23.6" height="37.9" fill="#fff" stroke="#1a1a1a" stroke-width="1.8"/>
<line x1="756.4" y1="1618" x2="780" y2="1618" stroke="#fff" stroke-width="0"/>
<path d="M726.4,1703.5 A117,117 0 0 0 678.5,1888.3 L857.5,1888.3 A117,117 0 0 0 809.6,1703.5 Z" fill="#fff" stroke="#1a1a1a" stroke-width="1.8"/>
<path d="M697,1668 Q768,1622 839.5,1668 Z" fill="#fff" stroke="#1a1a1a" stroke-width="1.8"/>
<path d="M734.5,1668 L800.9,1668 L804.7,1677.5 L731.5,1677.5 Z" fill="#fff" stroke="#1a1a1a" stroke-width="1.6"/>
<rect x="731.5" y="1677.5" width="73.2" height="78" fill="#fff" stroke="#1a1a1a" stroke-width="1.8"/>
<line x1="731.5" y1="1680.5" x2="804.7" y2="1680.5" stroke="#1a1a1a" stroke-width="1.5"/>
<line x1="731.5" y1="1684.1" x2="804.7" y2="1684.1" stroke="#1a1a1a" stroke-width="1.5"/>
<line x1="731.5" y1="1687.7" x2="804.7" y2="1687.7" stroke="#1a1a1a" stroke-width="1.5"/>
<line x1="731.5" y1="1691.3" x2="804.7" y2="1691.3" stroke="#1a1a1a" stroke-width="1.5"/>
<line x1="731.5" y1="1694.9" x2="804.7" y2="1694.9" stroke="#1a1a1a" stroke-width="1.5"/>
<line x1="731.5" y1="1698.5" x2="804.7" y2="1698.5" stroke="#1a1a1a" stroke-width="1.5"/>
<line x1="731.5" y1="1702.1" x2="804.7" y2="1702.1" stroke="#1a1a1a" stroke-width="1.5"/>
<line x1="731.5" y1="1705.7" x2="804.7" y2="1705.7" stroke="#1a1a1a" stroke-width="1.5"/>
<line x1="731.5" y1="1709.3" x2="804.7" y2="1709.3" stroke="#1a1a1a" stroke-width="1.5"/>
<line x1="731.5" y1="1712.9" x2="804.7" y2="1712.9" stroke="#1a1a1a" stroke-width="1.5"/>
<line x1="731.5" y1="1716.5" x2="804.7" y2="1716.5" stroke="#1a1a1a" stroke-width="1.5"/>
<line x1="731.5" y1="1720.1" x2="804.7" y2="1720.1" stroke="#1a1a1a" stroke-width="1.5"/>
<line x1="731.5" y1="1723.7" x2="804.7" y2="1723.7" stroke="#1a1a1a" stroke-width="1.5"/>
<line x1="731.5" y1="1727.3" x2="804.7" y2="1727.3" stroke="#1a1a1a" stroke-width="1.5"/>
<line x1="731.5" y1="1730.9" x2="804.7" y2="1730.9" stroke="#1a1a1a" stroke-width="1.5"/>
<line x1="731.5" y1="1734.5" x2="804.7" y2="1734.5" stroke="#1a1a1a" stroke-width="1.5"/>
<line x1="731.5" y1="1738.1" x2="804.7" y2="1738.1" stroke="#1a1a1a" stroke-width="1.5"/>
<line x1="731.5" y1="1741.7" x2="804.7" y2="1741.7" stroke="#1a1a1a" stroke-width="1.5"/>
<line x1="731.5" y1="1745.3" x2="804.7" y2="1745.3" stroke="#1a1a1a" stroke-width="1.5"/>
<line x1="731.5" y1="1748.9" x2="804.7" y2="1748.9" stroke="#1a1a1a" stroke-width="1.5"/>
<line x1="731.5" y1="1752.5" x2="804.7" y2="1752.5" stroke="#1a1a1a" stroke-width="1.5"/>
<path d="M757.8,1678.4 V1722 Q768.5,1738 779.3,1722 V1678.4 Z" fill="#fff" stroke="#1a1a1a" stroke-width="1.6"/>
<line x1="757.8" y1="1703.8" x2="779.3" y2="1703.8" stroke="#1a1a1a" stroke-width="1.6"/>
<path d="M715.1,1763.6 H821.6 Q804.7,1764 804.7,1782.8 V1832.3 H732.3 V1782.8 Q732.3,1764 715.1,1763.6 Z" fill="#fff" stroke="#1a1a1a" stroke-width="1.8"/>
<path d="M747,1839.7 C745.5,1850 744,1860 736.2,1868 C730,1876 728,1884 728,1891.4 A40.1,40.1 0 0 0 808.2,1891.4 C808.2,1884 806,1876 800,1868 C793,1860 791,1850 789.7,1839.7" fill="#fff" stroke="#1a1a1a" stroke-width="1.7"/>
<line x1="728" y1="1887.9" x2="808.2" y2="1887.9" stroke="#1a1a1a" stroke-width="1.7"/>
<path d="M751.7,1802.6 Q768,1799 784.9,1802.6 L788,1808.6 H749 Z" fill="#fff" stroke="#1a1a1a" stroke-width="1.6"/>
<rect x="744.4" y="1808.6" width="48.3" height="24.2" rx="3" fill="#fff" stroke="#1a1a1a" stroke-width="1.8"/>
<line x1="745" y1="1813.0" x2="792" y2="1810.0" stroke="#1a1a1a" stroke-width="1.8"/>
<line x1="745" y1="1817.0" x2="792" y2="1814.0" stroke="#1a1a1a" stroke-width="1.8"/>
<line x1="745" y1="1821.0" x2="792" y2="1818.0" stroke="#1a1a1a" stroke-width="1.8"/>
<line x1="745" y1="1825.0" x2="792" y2="1822.0" stroke="#1a1a1a" stroke-width="1.8"/>
<line x1="745" y1="1829.0" x2="792" y2="1826.0" stroke="#1a1a1a" stroke-width="1.8"/>
<line x1="745" y1="1833.0" x2="792" y2="1830.0" stroke="#1a1a1a" stroke-width="1.8"/>
<rect x="746.6" y="1832.8" width="43.1" height="6.9" fill="#fff" stroke="#1a1a1a" stroke-width="1.6"/>
<path d="M762.5,1839.7 V1849.5 Q768.3,1853 774.1,1849.5 V1839.7" fill="#fff" stroke="#1a1a1a" stroke-width="1.5"/>
<path d="M764.7,1851.7 L755.2,1874.1 L761.2,1886.2 L761.6,1903.4 L768.1,1896.6 L776.3,1903.4 L775.9,1887 L781.9,1874.1 L772.4,1851.7 M768.1,1853.4 L762.9,1903.4 M768.9,1853.4 L773.3,1903.4" fill="none" stroke="#1a1a1a" stroke-width="1.3"/>
<path d="M687.8,1934 C688,1929 692,1928.5 696,1930 C708,1936 720,1950 730.3,1952.4 C745,1948 760,1944 770,1942.5 C778,1942 782,1941 786,1938 C792,1932 798,1928 806,1927.8 C815,1927.5 821,1932 823.8,1938 C825,1944 828,1947 832.3,1949.6 C832,1953 828,1953.5 826.6,1952.4 C822,1952 819,1953 817,1956 C810,1966 808,1980 803,1988 C797,1998 792,2001 784.1,2002 L747.3,2002 C738,1998 730,1985 724.6,1970.8 C722,1962 720,1958 715,1955 C705,1950 697,1944 690,1938 C688,1937 687.8,1935 687.8,1934 Z" fill="#fff" stroke="#1a1a1a" stroke-width="1.6"/>
<path d="M724.6,1958 C735,1953 755,1950 772,1950 C786,1950 796,1952 797,1958 C796,1966 790,1975 778,1980 C765,1983 750,1982 740,1975 C733,1970 728,1964 724.6,1958 Z" fill="none" stroke="#1a1a1a" stroke-width="1.5"/>
<ellipse cx="816.7" cy="1944.5" rx="3" ry="1.6" fill="none" stroke="#1a1a1a" stroke-width="1.2"/>
<g fill="#fff" stroke="#1a1a1a" stroke-width="2" stroke-linejoin="round"><path d="M1070,537.6 C1085,537 1098,537 1107,535.8 C1120,532 1132,525 1144,521.9 C1152,520 1160,519.5 1169.4,519.2 V535.5 C1158,536.5 1146,537.5 1136.3,539.6 C1126,542 1116,546 1107,551 C1098,551 1085,551.2 1070,551.2 Z"/><path d="M1070,551.2 C1085,551.2 1098,551 1107,550.9 C1116,555 1124,560 1131.6,562.7 C1142,564.5 1155,564.3 1169.4,564.3 V580.4 C1158,580.4 1150,581 1144,580.4 C1132,578 1122,571 1111.6,569.3 C1098,568 1085,567.8 1070,567.8 Z"/><path d="M1070,573.5 C1080,574 1088,576.6 1094.7,576.6 C1100,585 1106,597 1114.7,605.8 C1122,613 1132,618 1140.9,620.5 C1150,622.5 1160,623.5 1169.4,623.5 V605.8 C1160,605.8 1156,605.8 1150.1,605.8 C1145,605 1139,603 1134.7,600.4 C1125,592 1119,580 1114,570.4 L1070,569 Z"/><path d="M975.4,535 H1072.4 V576.1 H960 L957.7,568.1 L971.6,567.3 L964.6,557.3 L973.1,552 L968.5,542 L976.2,539.6 Z"/></g><rect x="1169.4" y="525.7" width="19.2" height="3.8" fill="#555" stroke="#1a1a1a" stroke-width="1.2"/><rect x="1169.4" y="570.8" width="19.2" height="3.8" fill="#555" stroke="#1a1a1a" stroke-width="1.2"/><rect x="1169.4" y="613.2" width="19.2" height="3.8" fill="#555" stroke="#1a1a1a" stroke-width="1.2"/>
<g transform="translate(2549.6,-1) scale(-1,1)"><g fill="#fff" stroke="#1a1a1a" stroke-width="2" stroke-linejoin="round"><path d="M1070,537.6 C1085,537 1098,537 1107,535.8 C1120,532 1132,525 1144,521.9 C1152,520 1160,519.5 1169.4,519.2 V535.5 C1158,536.5 1146,537.5 1136.3,539.6 C1126,542 1116,546 1107,551 C1098,551 1085,551.2 1070,551.2 Z"/><path d="M1070,551.2 C1085,551.2 1098,551 1107,550.9 C1116,555 1124,560 1131.6,562.7 C1142,564.5 1155,564.3 1169.4,564.3 V580.4 C1158,580.4 1150,581 1144,580.4 C1132,578 1122,571 1111.6,569.3 C1098,568 1085,567.8 1070,567.8 Z"/><path d="M1070,573.5 C1080,574 1088,576.6 1094.7,576.6 C1100,585 1106,597 1114.7,605.8 C1122,613 1132,618 1140.9,620.5 C1150,622.5 1160,623.5 1169.4,623.5 V605.8 C1160,605.8 1156,605.8 1150.1,605.8 C1145,605 1139,603 1134.7,600.4 C1125,592 1119,580 1114,570.4 L1070,569 Z"/><path d="M975.4,535 H1072.4 V576.1 H960 L957.7,568.1 L971.6,567.3 L964.6,557.3 L973.1,552 L968.5,542 L976.2,539.6 Z"/></g><rect x="1169.4" y="525.7" width="19.2" height="3.8" fill="#555" stroke="#1a1a1a" stroke-width="1.2"/><rect x="1169.4" y="570.8" width="19.2" height="3.8" fill="#555" stroke="#1a1a1a" stroke-width="1.2"/><rect x="1169.4" y="613.2" width="19.2" height="3.8" fill="#555" stroke="#1a1a1a" stroke-width="1.2"/></g>
<g fill="none" stroke="#1a1a1a" stroke-width="2">
<path d="M1206,514.1 H1294.1 V542.6 H1206 Z M1206,561.9 H1294.1 V585.8 H1206 Z M1206,602 H1294.1 V631 H1206 Z M1239.7,514.1 V602 M1261,514.1 V602"/>
<circle cx="1220.9" cy="527.9" r="8.2"/>
<circle cx="1280.1" cy="527.9" r="8.2"/>
<circle cx="1220.9" cy="575.1" r="8.2"/>
<circle cx="1280.1" cy="575.1" r="8.2"/>
<circle cx="1220.9" cy="616.3" r="8.2"/>
<circle cx="1280.1" cy="616.3" r="8.2"/>
<circle cx="1249.9" cy="551.2" r="4.2" stroke-width="1.7"/><circle cx="1250.4" cy="593.4" r="4.2" stroke-width="1.7"/>
<rect x="1305.7" y="514.1" width="45.3" height="116.9"/>
<circle cx="1327.1" cy="570" r="11.3" stroke-width="1.8"/>
<path d="M1316,570 H1324 M1324,561 V579 M1331,560 V580 M1337,562 V578" stroke-width="1.7"/>
</g>
<path d="M1339.3,522.3 H1346.6 V539.6 H1314.1 V535.8 H1339.3 Z" fill="#1a1a1a"/>
<path d="M1314.1,598 H1346.6 V601.8 L1322,616.5 H1346.6 V620.3 H1314.1 V616.5 L1338.7,601.8 H1314.1 Z" fill="#1a1a1a"/>
<circle cx="112.8" cy="2210.8" r="32.3" fill="none" stroke="#000" stroke-width="3.2"/>
<path d="M112.8,2186.5 V2215.6 M90.3,2215.6 H135.7 M95,2223.7 H130 M100.6,2232.2 H124.6" stroke="#000" stroke-width="3.2" fill="none"/>
<rect x="174.9" y="2179.5" width="131.8" height="63.4" fill="none" stroke="#000" stroke-width="3.1"/>
<text x="193.2" y="2230.4" font-size="46.5" font-weight="bold" textLength="95.5" lengthAdjust="spacingAndGlyphs">IP20</text>
<path d="M334.8,2175.8 H350.5 V2183.7 H342.7 V2207.4 H350.5 V2215.2 H342.7 V2239.5 H350.5 V2247.4 H334.8 Z" fill="#000"/>
<path d="M358.4,2175.8 H382.1 V2247.4 H374.2 V2215.2 H366.3 V2247.4 H358.4 Z M366.3,2183.7 V2207.4 H374.2 V2183.7 Z" fill="#000" fill-rule="evenodd"/>
<path d="M390,2175.8 H405.7 V2183.7 H397.8 V2239.5 H405.7 V2247.4 H390 Z" fill="#000"/>
<path d="M469.8,2178.4 V2188.9 C466,2188.9 464.5,2188.9 464.5,2188.9 A22.7,22.7 0 0 0 464.5,2234.3 H469.8 V2244.8 H464.5 A33.2,33.2 0 0 1 464.5,2178.4 Z" fill="#000"/>
<path d="M527.9,2178.4 V2188.9 H522.7 A22.7,22.7 0 0 0 500.3,2206.4 H520 V2216.6 H500.3 A22.7,22.7 0 0 0 522.7,2234.3 H527.9 V2244.8 H522.7 A33.2,33.2 0 0 1 522.7,2178.4 Z" fill="#000"/>
<path d="M553.5,2176.4 L635.3,2259.2 M635.3,2176.4 L553.5,2259.2" stroke="#000" stroke-width="2"/>
<rect x="553.1" y="2265.1" width="83.2" height="12.2" fill="#000"/>
<g fill="none" stroke="#000" stroke-width="1.3">
<path d="M574.2,2191 H615 M576,2191 L581,2247.4 H609.7 L613.6,2191 M578,2188 Q594,2182 614,2187 L616,2191 M591,2184.5 H599"/>
<circle cx="606.7" cy="2245.8" r="4.3" stroke-width="1.8"/><path d="M613.6,2200 H616.5 V2206 H613"/>
</g>
<rect x="590" y="2207" width="10" height="2.5" fill="#000"/><rect x="582" y="2247" width="3.5" height="3" fill="#000"/><circle cx="580.5" cy="2186" r="1.5" fill="#000"/>
<line x1="479.5" y1="666.6" x2="681.4" y2="431.5" stroke="#000" stroke-width="1.7"/><path d="M681.4,431.5 L671.9,448.4 L666.2,443.5 Z" fill="#fff" stroke="#000" stroke-width="1.7" stroke-linejoin="miter"/>
<line x1="479.5" y1="666.6" x2="739.2" y2="500.5" stroke="#000" stroke-width="1.7"/><path d="M739.2,500.5 L725.2,513.9 L721.2,507.6 Z" fill="#fff" stroke="#000" stroke-width="1.7" stroke-linejoin="miter"/>
<line x1="479.5" y1="666.6" x2="742.0" y2="619.8" stroke="#000" stroke-width="1.7"/><path d="M742.0,619.8 L724.0,626.8 L722.6,619.4 Z" fill="#fff" stroke="#000" stroke-width="1.7" stroke-linejoin="miter"/>
<line x1="514.2" y1="820.0" x2="705.4" y2="605.7" stroke="#000" stroke-width="1.7"/><path d="M705.4,605.7 L695.5,622.4 L690.0,617.4 Z" fill="#fff" stroke="#000" stroke-width="1.7" stroke-linejoin="miter"/>
<line x1="514.2" y1="820.0" x2="678.0" y2="800.8" stroke="#000" stroke-width="1.7"/><path d="M678.0,800.8 L659.6,806.7 L658.7,799.3 Z" fill="#fff" stroke="#000" stroke-width="1.7" stroke-linejoin="miter"/>
<line x1="514.2" y1="820.0" x2="692.1" y2="871.0" stroke="#000" stroke-width="1.7"/><path d="M692.1,871.0 L672.8,869.4 L674.9,862.2 Z" fill="#fff" stroke="#000" stroke-width="1.7" stroke-linejoin="miter"/>
<line x1="923.4" y1="903.8" x2="768.6" y2="824.3" stroke="#000" stroke-width="1.7"/><path d="M768.6,824.3 L787.2,829.6 L783.8,836.3 Z" fill="#fff" stroke="#000" stroke-width="1.7" stroke-linejoin="miter"/>
<line x1="923.4" y1="903.8" x2="777.8" y2="874.5" stroke="#000" stroke-width="1.7"/><path d="M777.8,874.5 L797.2,874.6 L795.7,881.9 Z" fill="#fff" stroke="#000" stroke-width="1.7" stroke-linejoin="miter"/>
<line x1="1012.4" y1="1639.8" x2="803.5" y2="1730.4" stroke="#000" stroke-width="1.7"/><path d="M803.5,1730.4 L819.4,1719.4 L822.4,1726.3 Z" fill="#fff" stroke="#000" stroke-width="1.7" stroke-linejoin="miter"/>
<line x1="1012.4" y1="1639.8" x2="802.1" y2="1794.1" stroke="#000" stroke-width="1.7"/><path d="M802.1,1794.1 L815.2,1779.8 L819.6,1785.9 Z" fill="#fff" stroke="#000" stroke-width="1.7" stroke-linejoin="miter"/>
<line x1="1012.4" y1="1639.8" x2="802.1" y2="1873.1" stroke="#000" stroke-width="1.7"/><path d="M802.1,1873.1 L812.0,1856.5 L817.6,1861.5 Z" fill="#fff" stroke="#000" stroke-width="1.7" stroke-linejoin="miter"/>
<!-- DRAW_END -->
</svg>
</body></html>
